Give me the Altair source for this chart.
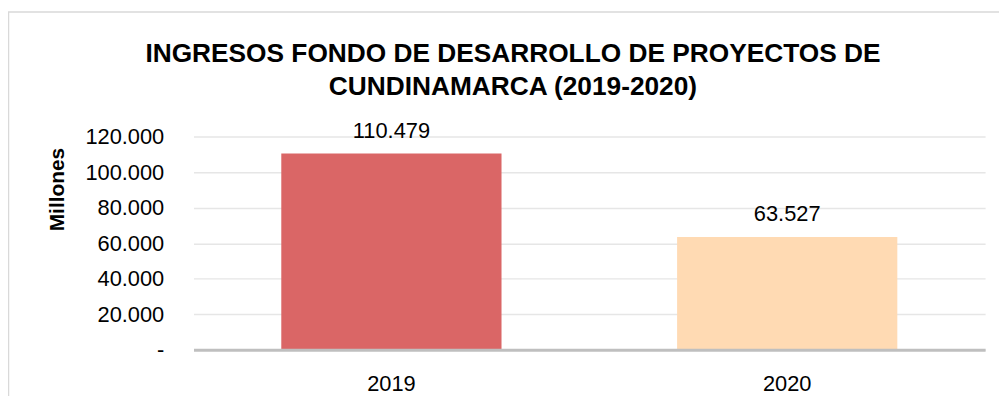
import altair as alt
import pandas as pd

FONT = "Liberation Sans"

years = ["2019", "2020"]
values = [110479, 63527]
bar_colors = ["#DA6666", "#FFDAB3"]
y_ticks = [0, 20000, 40000, 60000, 80000, 100000, 120000]
title_lines = ["INGRESOS FONDO DE DESARROLLO DE PROYECTOS DE", "CUNDINAMARCA (2019-2020)"]
y_title = "Millones"

df = pd.DataFrame({"year": years, "value": values})
df["label"] = [f"{v:,}".replace(",", ".") for v in values]

x_enc = alt.X(
    "year:N",
    sort=years,
    title=None,
    scale=alt.Scale(paddingInner=0.4436, paddingOuter=0.2218),
    axis=alt.Axis(
        labelAngle=0,
        labelFont=FONT,
        labelFontSize=22,
        labelColor="#000000",
        labelPadding=41,
        labelBaseline="alphabetic",
        ticks=False,
        domain=True,
        domainColor="#BFBFBF",
        domainWidth=3,
        grid=False,
        zindex=1,
    ),
)

y_enc = alt.Y(
    "value:Q",
    title=y_title,
    scale=alt.Scale(domain=[0, 120000], nice=False, zero=True),
    axis=alt.Axis(
        values=y_ticks,
        labelExpr="datum.value == 0 ? '-' : replace(format(datum.value, ','), ',', '.')",
        labelFont=FONT,
        labelFontSize=22,
        labelColor="#000000",
        labelPadding=30,
        labelOverlap=False,
        ticks=False,
        domain=False,
        grid=True,
        gridColor="#E6E6E6",
        gridWidth=1.5,
        titleFont=FONT,
        titleFontSize=21,
        titleFontWeight="bold",
        titleColor="#000000",
        titleAngle=-90,
        titleAlign="center",
        titleBaseline="middle",
        titleX=-137,
        titleY=53,
    ),
)

base = alt.Chart(df).encode(x=x_enc, y=y_enc)

bars = base.mark_bar().encode(
    color=alt.Color("year:N", scale=alt.Scale(domain=years, range=bar_colors), legend=None),
)

labels = base.mark_text(
    baseline="alphabetic", dy=-16, font=FONT, fontSize=22, color="#000000"
).encode(text="label:N")

frame_df = pd.DataFrame({"k": [0]})
left_border = alt.Chart(frame_df).mark_rule(color="#D9D9D9", strokeWidth=1.5).encode(
    x=alt.value(-186.5), y=alt.value(-125.5), y2=alt.value(300)
)
top_border = alt.Chart(frame_df).mark_rule(color="#D9D9D9", strokeWidth=1.5).encode(
    y=alt.value(-125.5), x=alt.value(-187.5), x2=alt.value(820)
)

title_1 = alt.Chart(frame_df).mark_text(
    font=FONT, fontSize=26.5, fontWeight="bold", color="#000000",
    align="center", baseline="alphabetic", text=title_lines[0],
).encode(x=alt.value(322), y=alt.value(-75))
title_2 = alt.Chart(frame_df).mark_text(
    font=FONT, fontSize=26.5, fontWeight="bold", color="#000000",
    align="center", baseline="alphabetic", text=title_lines[1],
).encode(x=alt.value(322), y=alt.value(-42))

chart = (
    alt.layer(bars, labels, left_border, top_border, title_1, title_2)
    .properties(
        width=798,
        height=215,
        autosize=alt.AutoSizeParams(type="none"),
        padding={"left": 187, "top": 128, "right": 14, "bottom": 45},
        background="#FFFFFF",
    )
    .configure_view(stroke=None)
)

chart.save("out.html", embed_options={"renderer": "svg", "actions": False})
